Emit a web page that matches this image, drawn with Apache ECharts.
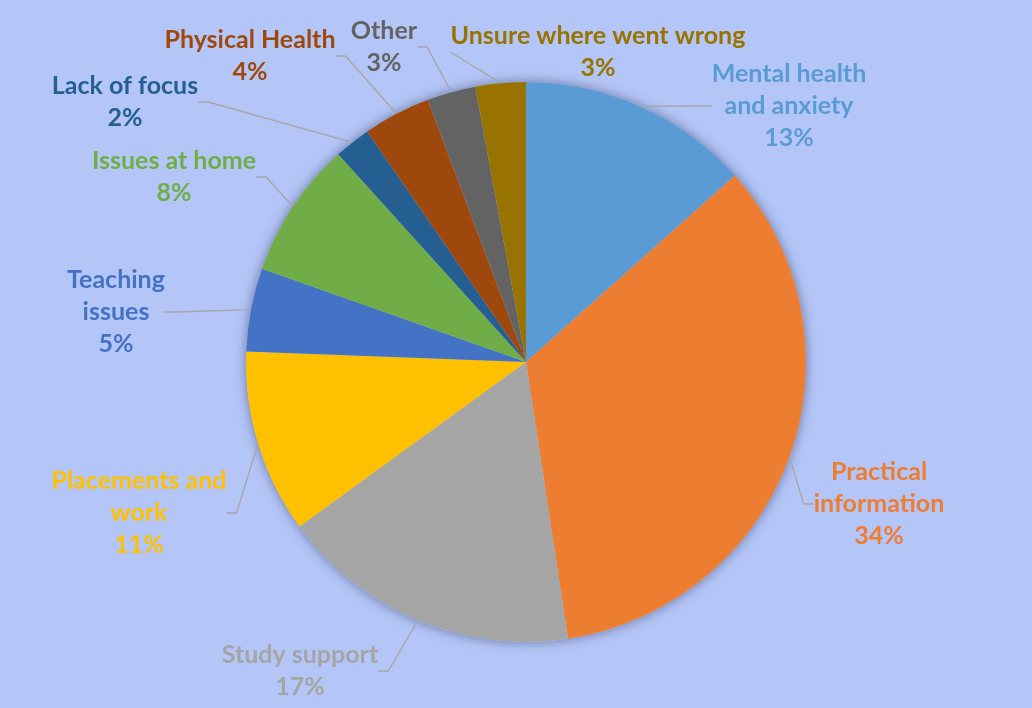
<!DOCTYPE html>
<html>
<head>
<meta charset="utf-8">
<style>
  html, body { margin: 0; padding: 0; background: #b4c6f7; }
  #main { width: 1032px; height: 708px; }
</style>
</head>
<body>
<div id="main"></div>
<script src="https://cdn.jsdelivr.net/npm/echarts@6/dist/echarts.min.js"></script>
<script>
// categories, clockwise from 12 o'clock
var categories = [
  'Mental health\nand anxiety',
  'Practical\ninformation',
  'Study support',
  'Placements and\nwork',
  'Teaching\nissues',
  'Issues at home',
  'Lack of focus',
  'Physical Health',
  'Other',
  'Unsure where went wrong'
];
// share of responses (%)
var shares = [13.4, 34.2, 17.4, 10.6, 4.8, 7.9, 2.1, 3.9, 2.8, 2.9];
var colors = ['#5b9bd5', '#ed7d31', '#a5a5a5', '#ffc000', '#4472c4',
              '#70ad47', '#255e91', '#9e480e', '#636363', '#997300'];

// where each label block sits (centre of the text)
var labelSpots = [
  [789, 106], [879, 504], [300, 671], [139, 513], [116, 312],
  [174, 177], [125, 102], [250, 56], [384, 47], [598, 52]
];

var myChart = echarts.init(document.getElementById('main'));

var data = categories.map(function (c, i) {
  return {
    name: c,
    value: shares[i],
    itemStyle: { color: colors[i] },
    label: { color: colors[i] }
  };
});

var option = {
  backgroundColor: '#b4c6f7',
  animation: false,
  series: [
    {
      // soft shadow behind the whole pie
      type: 'pie',
      silent: true,
      center: [526, 362],
      radius: 280,
      z: 1,
      label: { show: false },
      labelLine: { show: false },
      itemStyle: {
        color: '#b4c6f7',
        shadowBlur: 12,
        shadowColor: 'rgba(40,50,90,0.55)'
      },
      data: [{ value: 1, name: '' }]
    },
    {
      name: 'Reasons',
      type: 'pie',
      center: [526, 362],
      radius: 280,
      startAngle: 90,
      z: 2,
      itemStyle: { borderWidth: 0 },
      label: {
        show: true,
        position: 'outside',
        fontFamily: 'Lato',
        fontWeight: 'bold',
        fontSize: 25,
        lineHeight: 32,
        align: 'center',
        formatter: function (p) {
          return p.name + '\n' + Math.round(p.percent) + '%';
        }
      },
      labelLine: {
        show: true,
        length: 20,
        length2: 10,
        lineStyle: { color: '#a6a6a6', width: 1.3 }
      },
      labelLayout: function (params) {
        var s = labelSpots[params.dataIndex];
        return { x: s[0], y: s[1], align: 'center', verticalAlign: 'middle' };
      },
      emphasis: { disabled: true },
      data: data
    }
  ]
};

myChart.setOption(option);
</script>
</body>
</html>
